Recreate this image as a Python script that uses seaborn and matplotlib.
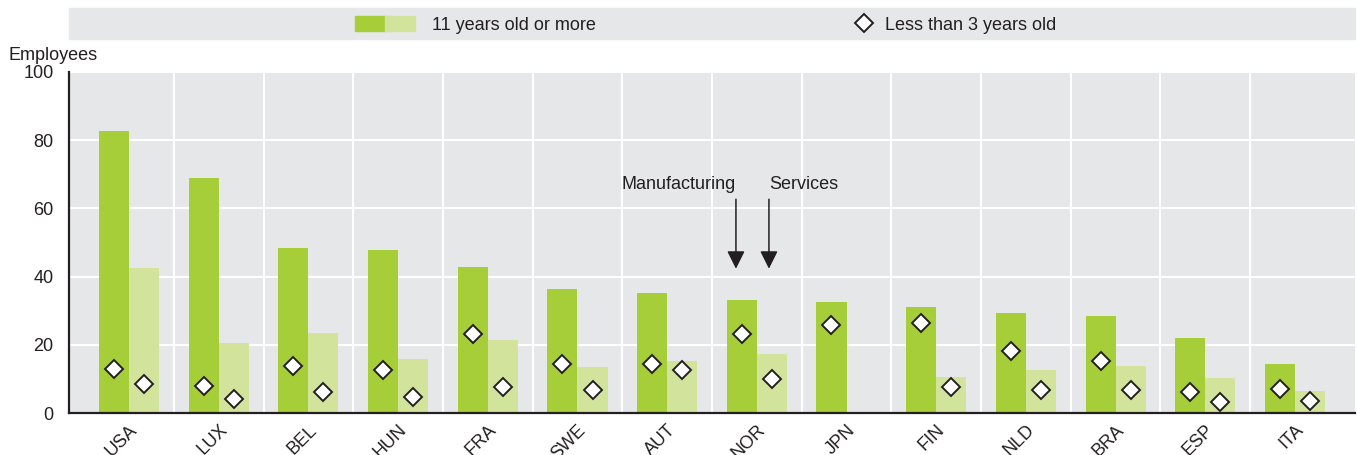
import numpy as np
import pandas as pd
import matplotlib
matplotlib.use("Agg")
import matplotlib.pyplot as plt
import seaborn as sns
from matplotlib.patches import Patch, Rectangle
from matplotlib.lines import Line2D
from matplotlib.legend_handler import HandlerTuple

# ---- data ----
countries = ["USA", "LUX", "BEL", "HUN", "FRA", "SWE", "AUT", "NOR", "JPN", "FIN", "NLD", "BRA", "ESP", "ITA"]
old_manuf = [82.8, 68.9, 48.4, 47.8, 42.8, 36.4, 35.2, 33.1, 32.6, 31.1, 29.3, 28.4, 22.0, 14.4]
old_serv = [42.5, 20.6, 23.5, 15.8, 21.4, 13.5, 15.2, 17.3, np.nan, 10.6, 12.6, 13.8, 10.3, 6.5]
young_manuf = [12.8, 7.9, 13.9, 12.5, 23.3, 14.5, 14.5, 23.3, 25.8, 26.4, 18.3, 15.2, 6.3, 7.0]
young_serv = [8.5, 4.2, 6.1, 4.7, 7.5, 6.6, 12.6, 10.0, np.nan, 7.5, 6.7, 6.6, 3.3, 3.6]
sectors = ["Manufacturing", "Services"]
yticks = [0, 20, 40, 60, 80, 100]

df = pd.DataFrame({
    "country": countries * 2,
    "sector": [sectors[0]] * len(countries) + [sectors[1]] * len(countries),
    "old": old_manuf + old_serv,
    "young": young_manuf + young_serv,
})

DARK = "#A6CE39"
LIGHT = "#D2E39C"
BG = "#E6E7E9"
INK = "#231F20"
FS = 13
MS = 9.2

sns.set_style("white")
plt.rcParams["font.family"] = ["Liberation Sans", "DejaVu Sans"]
plt.rcParams["font.size"] = FS

fig = plt.figure(figsize=(13.57, 4.55), dpi=100)
ax = fig.add_axes([69 / 1357, 1 - 413 / 455, (1355 - 69) / 1357, (413 - 72) / 455])
ax.set_facecolor(BG)

sns.barplot(data=df, x="country", y="old", hue="sector", order=countries, hue_order=sectors,
            palette=[DARK, LIGHT], width=0.67, gap=0, saturation=1, errorbar=None,
            legend=False, ax=ax, linewidth=0)
sns.pointplot(data=df.dropna(), x="country", y="young", hue="sector", order=countries,
              hue_order=sectors, palette=["white", "white"], dodge=0.335, errorbar=None,
              markers="D", linestyle="none", markersize=MS, markeredgewidth=1.4,
              markerfacecolor="white", markeredgecolor=INK, legend=False, ax=ax)

n = len(countries)
ax.set_xlim(-0.67, n - 1 + 0.67)
ax.set_ylim(0, 100)
ax.set_yticks(yticks)
ax.set_xticks(range(n))
ax.set_xticklabels(countries, rotation=45, ha="right", rotation_mode="anchor")
ax.set_xticks(np.arange(n - 1) + 0.5, minor=True)
ax.set_xlabel("")
ax.set_ylabel("")
ax.set_axisbelow(True)
ax.grid(axis="y", which="major", color="white", lw=1.5)
ax.grid(axis="x", which="minor", color="white", lw=1.5)
ax.grid(axis="x", which="major", visible=False)
ax.tick_params(axis="x", which="major", length=0, pad=6, labelcolor=INK)
ax.tick_params(axis="x", which="minor", direction="in", length=6, width=1.3, color=INK)
ax.tick_params(axis="y", direction="in", length=6, width=1.3, color=INK, pad=11, labelcolor=INK)
for s in ["top", "right"]:
    ax.spines[s].set_visible(False)
for s in ["left", "bottom"]:
    ax.spines[s].set_color(INK)
    ax.spines[s].set_linewidth(1.6)

# annotation arrows for NOR
ax.annotate("", xy=(7 - 0.233, 41.5), xytext=(7 - 0.233, 63.5),
            arrowprops=dict(arrowstyle="-|>", color=INK, lw=1.1, mutation_scale=27))
ax.annotate("", xy=(7 + 0.135, 41.5), xytext=(7 + 0.135, 63.5),
            arrowprops=dict(arrowstyle="-|>", color=INK, lw=1.1, mutation_scale=27))
ax.text(7 - 0.233, 67, "Manufacturing", ha="right", va="center", color=INK, fontsize=FS)
ax.text(7 + 0.135, 67, "Services", ha="left", va="center", color=INK, fontsize=FS)

# legend band
fig.add_artist(Rectangle((69 / 1357, 1 - 39 / 455), (1355 - 69) / 1357, 31 / 455,
                         transform=fig.transFigure, color=BG, zorder=0))
fig.legend(handles=[(Patch(color=DARK), Patch(color=LIGHT))], labels=["11 years old or more"],
           handler_map={tuple: HandlerTuple(ndivide=None, pad=0)},
           loc="center left", bbox_to_anchor=(355 / 1357, 1 - 25 / 455), frameon=False,
           borderpad=0, borderaxespad=0, handlelength=3.3, handleheight=0.9, handletextpad=0.95,
           fontsize=FS, labelcolor=INK)
fig.legend(handles=[Line2D([], [], marker="D", ls="none", markersize=MS, markerfacecolor="white",
                           markeredgecolor=INK, markeredgewidth=1.4)],
           labels=["Less than 3 years old"], loc="center left",
           bbox_to_anchor=(855 / 1357, 1 - 25 / 455), frameon=False, borderpad=0,
           borderaxespad=0, handlelength=1.0, handletextpad=0.65, fontsize=FS, labelcolor=INK)

fig.text(8 / 1357, 1 - 55 / 455, "Employees", ha="left", va="center", color=INK, fontsize=FS)

fig.savefig("out.png", dpi=100)
